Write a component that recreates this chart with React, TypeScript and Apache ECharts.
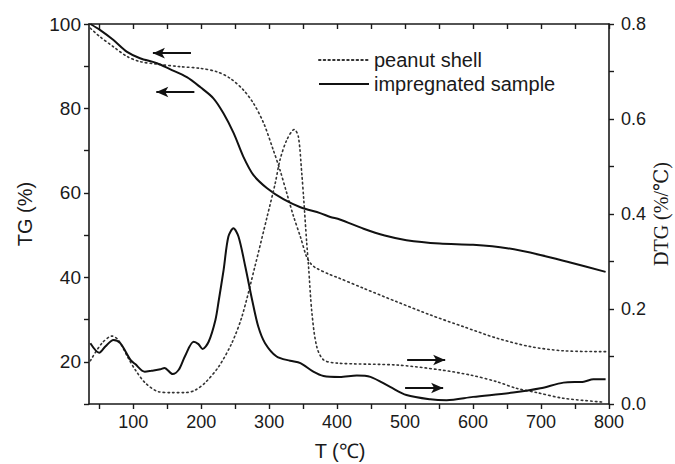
import React, { useEffect, useRef } from "react";
import * as echarts from "echarts";

// ---- data ----
const peanutTGTemp = [37, 51, 71, 91, 110, 135, 169, 199, 223, 243, 262, 277, 292, 306, 316, 326, 336, 346, 355, 361, 368, 390, 400, 439, 488, 537, 586, 635, 684, 733, 795];
const peanutTG = [99.0, 97.0, 94.6, 92.3, 91.1, 90.5, 89.9, 89.5, 88.7, 87.1, 84.4, 81.2, 76.5, 70.2, 65.4, 59.9, 54.4, 49.6, 44.9, 43.3, 42.3, 40.6, 40.0, 37.4, 34.2, 31.1, 28.3, 25.6, 23.6, 22.6, 22.4];

const impregTGTemp = [37, 51, 71, 91, 110, 135, 154, 179, 199, 218, 233, 248, 262, 277, 297, 321, 346, 375, 390, 404, 439, 470, 502, 551, 600, 650, 699, 743, 795];
const impregTG = [100, 98.6, 96.2, 93.4, 91.9, 90.7, 89.3, 87.4, 85.0, 82.4, 78.8, 74.1, 68.6, 64.2, 61.1, 58.5, 56.6, 55.2, 54.3, 53.7, 51.5, 49.9, 48.8, 48.0, 47.7, 46.9, 45.3, 43.5, 41.3];

const peanutDTGTemp = [37, 54, 69, 78, 93, 103, 118, 137, 157, 177, 191, 206, 226, 245, 260, 279, 297, 309, 316, 326, 337, 343, 348, 351, 355, 358, 363, 370, 380, 400, 488, 551, 596, 635, 664, 694, 733, 792];
const peanutDTG = [0.091, 0.128, 0.143, 0.135, 0.096, 0.072, 0.044, 0.026, 0.024, 0.024, 0.029, 0.045, 0.079, 0.128, 0.184, 0.289, 0.394, 0.465, 0.514, 0.556, 0.578, 0.563, 0.486, 0.429, 0.345, 0.289, 0.191, 0.121, 0.093, 0.086, 0.082, 0.072, 0.061, 0.047, 0.033, 0.024, 0.012, 0.004];

const impregDTGTemp = [37, 50, 59, 71, 81, 96, 103, 117, 127, 140, 146, 158, 167, 176, 189, 196, 202, 211, 221, 226, 233, 240, 247.5, 255, 265, 275, 284, 294, 311, 331, 346, 365, 380, 404, 429, 449, 478, 502, 537, 561, 600, 659, 699, 733, 763, 777, 795];
const impregDTG = [0.128, 0.108, 0.121, 0.135, 0.128, 0.093, 0.084, 0.068, 0.070, 0.073, 0.076, 0.063, 0.072, 0.100, 0.131, 0.126, 0.116, 0.131, 0.177, 0.219, 0.282, 0.352, 0.370, 0.352, 0.289, 0.219, 0.163, 0.128, 0.100, 0.091, 0.086, 0.068, 0.059, 0.057, 0.060, 0.057, 0.036, 0.019, 0.010, 0.008, 0.015, 0.024, 0.033, 0.045, 0.047, 0.052, 0.052];

const xTicks = [50, 100, 150, 200, 250, 300, 350, 400, 450, 500, 550, 600, 650, 700, 750, 800];
const xLabels = [100, 200, 300, 400, 500, 600, 700, 800];

// arrows: [fromX, toX, y] in data units (head at toX)
const tgArrows = [[185, 129, 93.1], [190, 134, 83.9]];
const dtgArrows = [[503, 559, 0.0926], [500, 556, 0.0337]];

const pair = (xs: number[], ys: number[]) => xs.map((x, i) => [x, ys[i]]);

const SANS = "'Liberation Sans', Arial, Helvetica, sans-serif";
const SERIF = "'Liberation Serif', 'Times New Roman', 'DejaVu Serif', serif";
const INK = "#1a1a1a";

export default function App() {
  const ref = useRef<HTMLDivElement>(null);
  useEffect(() => {
    if (!ref.current) return;
    const chart = echarts.init(ref.current, undefined, { renderer: "svg" });
    const axisLine = { show: true, onZero: false, lineStyle: { color: INK, width: 1.6 } };
    const tickStyle = { color: INK, width: 1.4 };
    const dotted = { color: "#333", width: 1.6, type: [1.5, 3.2] as number[], cap: "round" as const };
    const solid = { color: "#111", width: 2 };
    const arrowLine = (arr: number[][]) => ({
      silent: true,
      symbol: ["none", "arrow"],
      symbolSize: [8, 12],
      label: { show: false },
      lineStyle: { color: "#111", width: 1.8, type: "solid" },
      data: arr.map(([a, b, y]) => [{ coord: [a, y] }, { coord: [b, y] }]),
    });
    chart.setOption({
      animation: false,
      backgroundColor: "#fff",
      grid: { left: 89, right: 66, top: 24, bottom: 60, outerBoundsMode: "none", containLabel: false },
      legend: {
        data: ["peanut shell", "impregnated sample"],
        orient: "vertical",
        left: 318,
        top: 50,
        padding: 0,
        itemWidth: 50,
        itemHeight: 12,
        itemGap: 4,
        selectedMode: false,
        itemStyle: { opacity: 0, borderWidth: 0 },
        textStyle: { fontSize: 20, color: INK, fontFamily: SANS },
      },
      xAxis: [
        {
          type: "value",
          min: 35,
          max: 800,
          position: "bottom",
          axisLine,
          axisTick: { show: true, inside: false, length: 5, lineStyle: tickStyle, customValues: xTicks },
          axisLabel: { customValues: xLabels, color: INK, fontSize: 18, fontFamily: SANS, margin: 9 },
          splitLine: { show: false },
          name: "T (℃)",
          nameLocation: "middle",
          nameGap: 37,
          nameMoveOverlap: false,
          nameTextStyle: { fontSize: 20, color: INK, fontFamily: SANS, padding: [0, 18, 0, 0] },
        },
        {
          type: "value",
          min: 35,
          max: 800,
          position: "top",
          axisLine,
          axisTick: { show: true, inside: true, length: 5, lineStyle: tickStyle, customValues: xTicks },
          axisLabel: { show: false },
          splitLine: { show: false },
        },
      ],
      yAxis: [
        {
          type: "value",
          min: 10,
          max: 100,
          interval: 10,
          position: "left",
          axisLine,
          axisTick: { show: true, inside: false, length: 5, lineStyle: tickStyle },
          axisLabel: {
            color: INK,
            fontSize: 19,
            fontFamily: SANS,
            margin: 8,
            formatter: (v: number) => (Math.round(v) % 20 === 0 ? String(Math.round(v)) : ""),
          },
          splitLine: { show: false },
          name: "TG (%)",
          nameLocation: "middle",
          nameGap: 54,
          nameMoveOverlap: false,
          nameTextStyle: { fontSize: 20, color: INK, fontFamily: SANS },
        },
        {
          type: "value",
          min: 0,
          max: 0.8,
          interval: 0.1,
          position: "right",
          axisLine,
          axisTick: { show: true, inside: false, length: 5, lineStyle: tickStyle },
          axisLabel: {
            color: INK,
            fontSize: 18,
            fontFamily: SANS,
            margin: 12,
            formatter: (v: number) => (Math.round(v * 10) % 2 === 0 ? v.toFixed(1) : ""),
          },
          splitLine: { show: false },
          name: "DTG (%/℃)",
          nameLocation: "middle",
          nameGap: 42,
          nameMoveOverlap: false,
          nameTextStyle: { fontSize: 20, color: INK, fontFamily: SERIF },
        },
      ],
      series: [
        {
          name: "peanut shell",
          type: "line",
          xAxisIndex: 0,
          yAxisIndex: 0,
          data: pair(peanutTGTemp, peanutTG),
          symbol: "none",
          smooth: 0.3,
          lineStyle: dotted,
          itemStyle: { color: "#333" },
        },
        {
          name: "impregnated sample",
          type: "line",
          xAxisIndex: 0,
          yAxisIndex: 0,
          data: pair(impregTGTemp, impregTG),
          symbol: "none",
          smooth: 0.3,
          lineStyle: solid,
          itemStyle: { color: "#111" },
          markLine: arrowLine(tgArrows),
        },
        {
          name: "peanut shell",
          type: "line",
          xAxisIndex: 0,
          yAxisIndex: 1,
          data: pair(peanutDTGTemp, peanutDTG),
          symbol: "none",
          smooth: 0.3,
          lineStyle: dotted,
          itemStyle: { color: "#333" },
        },
        {
          name: "impregnated sample",
          type: "line",
          xAxisIndex: 0,
          yAxisIndex: 1,
          data: pair(impregDTGTemp, impregDTG),
          symbol: "none",
          smooth: 0.3,
          lineStyle: solid,
          itemStyle: { color: "#111" },
          markLine: arrowLine(dtgArrows),
        },
      ],
    });
    return () => chart.dispose();
  }, []);
  return <div ref={ref} style={{ position: "absolute", left: 0, top: 0, width: 675, height: 464 }} />;
}
